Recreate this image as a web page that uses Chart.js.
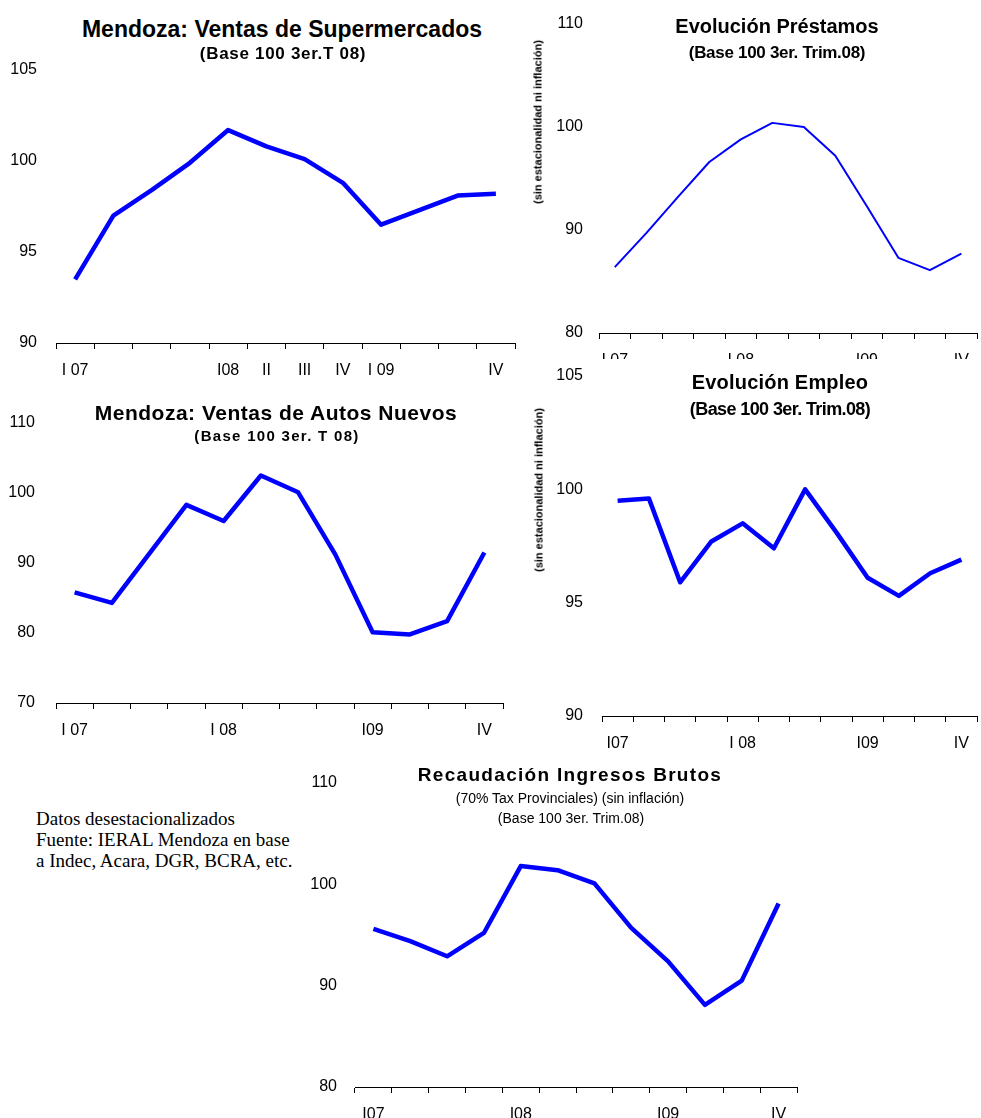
<!DOCTYPE html>
<html lang="es">
<head>
<meta charset="utf-8">
<title>Mendoza: indicadores desestacionalizados</title>
<script src="https://cdn.jsdelivr.net/npm/chart.js@4.4.0/dist/chart.umd.min.js"></script>
<style>
  html, body { margin: 0; padding: 0; background: #fff; overflow: hidden; }
  body { width: 981px; height: 1118px; position: relative; font-family: 'Liberation Sans', Arial, sans-serif; color: #000; }
  .box { position: absolute; }
  .clip { position: absolute; overflow: hidden; }
  .txt { position: absolute; white-space: nowrap; transform: translateX(-50%); }
  .b { font-weight: bold; }
  .vtxt { position: absolute; white-space: nowrap; font-weight: bold; font-size: 11px; line-height: 11px;
          transform: translate(-50%, -50%) rotate(-90deg); }
  .nota { position: absolute; left: 36px; top: 808px; font-family: 'Liberation Serif', 'Times New Roman', serif;
          font-size: 19px; line-height: 21px; white-space: nowrap; }
</style>
</head>
<body>

<!-- Supermercados -->
<div class="box" style="left:0;top:56px;width:520px;height:332px"><canvas id="chartSuper"></canvas></div>
<div class="txt b" style="left:282px;top:18px;font-size:23px;line-height:23px">Mendoza: Ventas de Supermercados</div>
<div class="txt b" style="left:283px;top:45px;font-size:17px;line-height:17px;letter-spacing:0.7px">(Base 100 3er.T 08)</div>

<!-- Prestamos -->
<div class="clip" style="left:540px;top:0;width:441px;height:359px">
  <div class="box" style="left:0;top:10px;width:441px;height:368px"><canvas id="chartPrest"></canvas></div>
</div>
<div class="txt b" style="left:777px;top:16px;font-size:20px;line-height:20px">Evolución Préstamos</div>
<div class="txt b" style="left:777px;top:44px;font-size:17px;line-height:17px;letter-spacing:-0.3px">(Base 100 3er. Trim.08)</div>
<div class="vtxt" style="left:538px;top:122px">(sin estacionalidad ni inflación)</div>

<!-- Autos -->
<div class="box" style="left:0;top:409px;width:520px;height:339px"><canvas id="chartAutos"></canvas></div>
<div class="txt b" style="left:276px;top:402px;font-size:21px;line-height:21px;letter-spacing:0.5px">Mendoza: Ventas de Autos Nuevos</div>
<div class="txt b" style="left:277px;top:428px;font-size:15px;line-height:15px;letter-spacing:1.3px">(Base 100 3er. T 08)</div>

<!-- Empleo -->
<div class="box" style="left:540px;top:362px;width:441px;height:399px"><canvas id="chartEmpleo"></canvas></div>
<div class="txt b" style="left:780px;top:372px;font-size:20px;line-height:20px;letter-spacing:0.2px">Evolución Empleo</div>
<div class="txt b" style="left:780px;top:400px;font-size:18px;line-height:18px;letter-spacing:-0.6px">(Base 100 3er. Trim.08)</div>
<div class="vtxt" style="left:539px;top:490px">(sin estacionalidad ni inflación)</div>

<!-- Ingresos Brutos -->
<div class="box" style="left:300px;top:769px;width:520px;height:363px"><canvas id="chartIIBB"></canvas></div>
<div class="txt b" style="left:570px;top:765px;font-size:19px;line-height:19px;letter-spacing:1.3px">Recaudación Ingresos Brutos</div>
<div class="txt" style="left:570px;top:791px;font-size:14px;line-height:14px">(70% Tax Provinciales) (sin inflación)</div>
<div class="txt" style="left:571px;top:811px;font-size:14px;line-height:14px">(Base 100 3er. Trim.08)</div>

<div class="nota">Datos desestacionalizados<br>Fuente: IERAL Mendoza en base<br>a Indec, Acara, DGR, BCRA, etc.</div>

<script>
// trimestres I-07 .. IV-09
const trimestres = ['I 07', 'II 07', 'III 07', 'IV 07', 'I 08', 'II 08', 'III 08', 'IV 08', 'I 09', 'II 09', 'III 09', 'IV 09'];

// etiquetas del eje x de cada grafico
const ticksSuper  = ['I 07', '', '', '', 'I08', 'II', 'III', 'IV', 'I 09', '', '', 'IV'];
const ticksPrest  = ['I 07', '', '', '', 'I 08', '', '', '', 'I09', '', '', 'IV'];
const ticksAutos  = ['I 07', '', '', '', 'I 08', '', '', '', 'I09', '', '', 'IV'];
const ticksEmpleo = ['I07', '', '', '', 'I 08', '', '', '', 'I09', '', '', 'IV'];
const ticksIIBB   = ['I07', '', '', '', 'I08', '', '', '', 'I09', '', '', 'IV'];

// series (base 100 = 3er trim 08)
const supermercados  = [93.5, 97.0, 98.4, 99.9, 101.7, 100.8, 100.1, 98.8, 96.5, 97.3, 98.1, 98.2];
const prestamos      = [86.4, 89.7, 93.2, 96.6, 98.8, 100.4, 100.0, 97.2, 92.3, 87.3, 86.1, 87.7];
const autos          = [85.8, 84.3, 91.3, 98.3, 96.0, 102.5, 100.1, 91.2, 80.1, 79.8, 81.7, 91.5];
const empleo         = [99.5, 99.6, 95.9, 97.7, 98.5, 97.4, 100.0, 98.1, 96.1, 95.3, 96.3, 96.9];
const ingresosBrutos = [95.6, 94.4, 92.9, 95.2, 101.8, 101.4, 100.1, 95.7, 92.4, 88.1, 90.5, 98.1];

Chart.defaults.font.family = "'Liberation Sans', Arial, sans-serif";
Chart.defaults.color = '#000';
Chart.defaults.animation = false;

function lineChart(id, values, tickLabels, yMin, yMax, step, o) {
    const ctx = document.getElementById(id).getContext('2d');
    return new Chart(ctx, {
        type: 'line',
        data: {
            labels: trimestres,
            datasets: [{
                data: values,
                borderColor: '#0000ff',
                borderWidth: o.lineWidth,
                borderJoinStyle: 'round',
                pointRadius: 0,
                tension: 0,
                fill: false
            }]
        },
        options: {
            responsive: true,
            maintainAspectRatio: false,
            layout: { padding: { top: o.padTop, right: o.padRight, left: 0, bottom: 0 } },
            plugins: { legend: { display: false }, tooltip: { enabled: false } },
            scales: {
                x: {
                    offset: true,
                    afterFit: s => { s.height = 45; },
                    grid: { offset: true, drawOnChartArea: false, drawTicks: true, tickLength: 6, color: '#000', lineWidth: 1 },
                    border: { display: true, color: '#000', width: 1 },
                    ticks: {
                        autoSkip: false, maxRotation: 0, minRotation: 0, padding: 12,
                        font: { size: 16 },
                        callback: (v, i) => tickLabels[i]
                    }
                },
                y: {
                    min: yMin,
                    max: yMax,
                    // ancho fijo y sin relleno extra arriba/abajo (la padding de ticks se suma si no)
                    afterFit: s => { s.width = o.yWidth; s.paddingTop = 0; s.paddingBottom = 0; },
                    grid: { display: false, drawTicks: false },
                    border: { display: false },
                    ticks: { stepSize: step, padding: o.yPad, font: { size: 16 } }
                }
            }
        }
    });
}

lineChart('chartSuper', supermercados, ticksSuper, 90, 105, 5,
    { yWidth: 56, yPad: 19, padTop: 14, padRight: 5, lineWidth: 4.5 });
lineChart('chartPrest', prestamos, ticksPrest, 80, 110, 10,
    { yWidth: 59, yPad: 16, padTop: 14, padRight: 1, lineWidth: 2 });
lineChart('chartAutos', autos, ticksAutos, 70, 110, 10,
    { yWidth: 56, yPad: 21, padTop: 14, padRight: 17, lineWidth: 4.5 });
lineChart('chartEmpleo', empleo, ticksEmpleo, 90, 105, 5,
    { yWidth: 62, yPad: 19, padTop: 14, padRight: 1, lineWidth: 4.5 });
lineChart('chartIIBB', ingresosBrutos, ticksIIBB, 80, 110, 10,
    { yWidth: 55, yPad: 18, padTop: 14, padRight: 23, lineWidth: 4.5 });
</script>
</body>
</html>
